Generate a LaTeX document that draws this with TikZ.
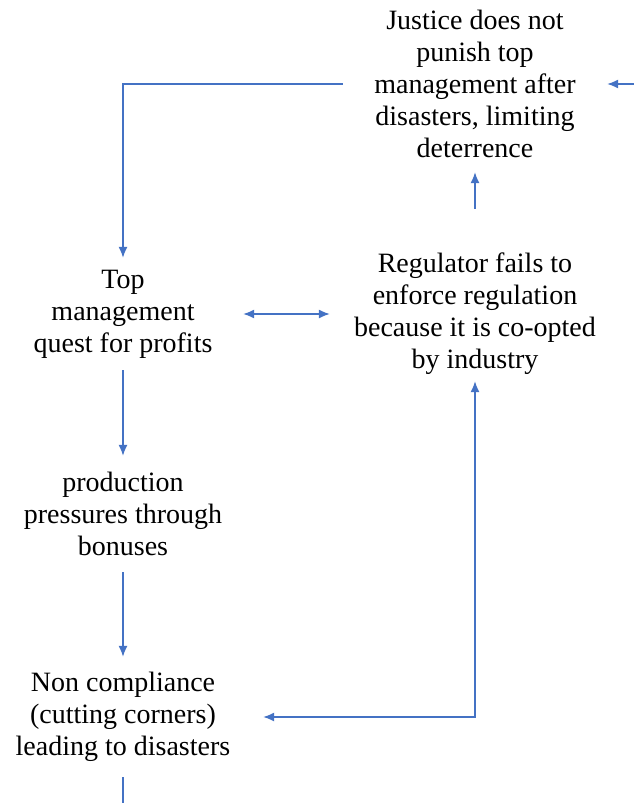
\documentclass[tikz,border=0pt]{standalone}
\usepackage{tikz}
\usetikzlibrary{arrows.meta}
\usepackage{fontspec}
\setmainfont{Liberation Serif}
\definecolor{linkblue}{RGB}{68,114,196}

\begin{document}
\begin{tikzpicture}[x=1pt,y=-1pt,
    txt/.style={align=center, inner sep=0pt, font=\fontsize{28}{32}\selectfont},
    link/.style={linkblue, line width=1.3pt, -{Latex[length=11pt,width=9pt]}},
    twoway/.style={linkblue, line width=1.3pt, {Latex[length=11pt,width=9pt]}-{Latex[length=11pt,width=9pt]}}]
            \useasboundingbox (0,0) rectangle (634,803);
            \node[txt, minimum width=264, minimum height=176] (justice) at (475,84) {Justice does not\\punish top\\management after\\disasters, limiting\\deterrence};
            \node[txt, minimum width=240, minimum height=112] (quest) at (123,314) {Top\\management\\quest for profits};
            \node[txt, minimum width=290, minimum height=134] (regul) at (475,314) {Regulator fails to\\enforce regulation\\because it is co-opted\\by industry};
            \node[txt, minimum height=116] (bonus) at (123,514) {production\\pressures through\\bonuses};
            \node[txt, minimum width=280, minimum height=120] (noncomp) at (123,717) {Non compliance\\(cutting corners)\\leading to disasters};
            \coordinate (feedin) at (634,84);
            \coordinate (feedout) at (123,803);
            \draw[link] (feedin) -- (justice.east);
            \draw[link] (justice.west) -| (quest.north);
            \draw[link, shorten <=38pt] (regul.north) -- (justice.south);
            \draw[twoway] (quest.east) -- (regul.west);
            \draw[link] (quest.south) -- (bonus.north);
            \draw[link] (bonus.south) -- (noncomp.north);
            \draw[twoway] (noncomp.east) -| (regul.south);
            \draw[linkblue, line width=1.3pt] (noncomp.south) -- (feedout);
        \end{tikzpicture}
\end{document}
